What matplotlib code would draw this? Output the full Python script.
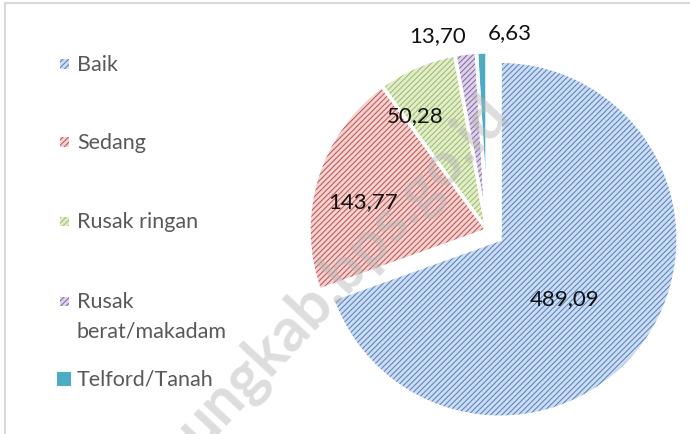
import numpy as np
import matplotlib.pyplot as plt
from matplotlib.patches import Rectangle
from matplotlib.lines import Line2D

# Data
categories = ['Baik', 'Sedang', 'Rusak ringan', 'Rusak\nberat/makadam', 'Telford/Tanah']
values = [489.09, 143.77, 50.28, 13.70, 6.63]
labels = [f'{v:.2f}'.replace('.', ',') for v in values]

# Styles
fills = ['#cddcf1', '#f2d2d1', '#e2edcf', '#ddd3e8', '#4bacc6']
hatch_colors = ['#4f7fc0', '#c0504d', '#9bbb59', '#8064a2', '#4bacc6']
hatches = ['//////', '//////', '//////', '//////', None]
explode = [0.09, 0, 0, 0, 0]
# label placement: distance from centre (radius units), angle nudge (deg)
lab_dist = [0.49, 0.715, 0.76, 1.13, 1.12]
lab_nudge = [-7, 4, 8.6, 7.2, -8.3]

plt.rcParams['font.family'] = ['Lato', 'DejaVu Sans']
plt.rcParams['hatch.linewidth'] = 0.7

W, H = 690, 435
fig = plt.figure(figsize=(W / 100, H / 100), dpi=100)

# pie axes: centre at (487, 231) px, radius 178 px
cx, cy, R = 487, 231, 178
half = 200
ax = fig.add_axes([(cx - half) / W, (H - cy - half) / H, 2 * half / W, 2 * half / H])

wedges, _ = ax.pie(values, explode=explode, startangle=90, counterclock=False,
                   radius=1, wedgeprops=dict(linewidth=0))
for w, fc, hc, h in zip(wedges, fills, hatch_colors, hatches):
    w.set_facecolor(fc)
    w.set_edgecolor(hc)
    w.set_linewidth(0)
    if h:
        w.set_hatch(h)

# white separators
ax.pie(values, explode=explode, startangle=90, counterclock=False, radius=1,
       wedgeprops=dict(fill=False, edgecolor='white', linewidth=2.5))

lim = half / R
ax.set_xlim(-lim, lim)
ax.set_ylim(-lim, lim)
ax.set_aspect('equal')
ax.axis('off')

# value labels
for w, lab, d, nud, ex in zip(wedges, labels, lab_dist, lab_nudge, explode):
    mid = np.deg2rad((w.theta1 + w.theta2) / 2)
    ang = mid + np.deg2rad(nud)
    x = ex * np.cos(mid) + d * np.cos(ang)
    y = ex * np.sin(mid) + d * np.sin(ang)
    ax.text(x, y, lab, ha='center', va='center', fontsize=16, color='#111111')

# legend (drawn manually)
leg_y = [65, 143, 222, 302, 380]
for i, (cat, y) in enumerate(zip(categories, leg_y)):
    size = 14 if hatches[i] is None else 9
    mx = 64 - size / 2
    rect = Rectangle((mx / W, (H - y - size / 2) / H), size / W, size / H,
                     transform=fig.transFigure, facecolor=fills[i],
                     edgecolor=hatch_colors[i], linewidth=0, hatch=hatches[i])
    fig.patches.append(rect)
    lines = cat.split('\n')
    for j, line in enumerate(lines):
        fig.text(77 / W, (H - y - j * 30) / H, line, ha='left', va='center',
                 fontsize=15.5, color='#595959')

# watermark
fig.text(200 / W, (H - 450) / H, 'ungkab.bps.go.id', rotation=47,
         rotation_mode='anchor', ha='left', va='baseline', fontsize=44,
         fontweight='bold', color='#b5b5b5', alpha=0.45, zorder=10)

# frame
fig.add_artist(Line2D([5 / W, 5 / W], [0, (H - 4) / H], color='#d9d9d9', linewidth=1.5))
fig.add_artist(Line2D([5 / W, 1], [(H - 4) / H, (H - 4) / H], color='#d9d9d9', linewidth=1.5))

fig.savefig('out.png', dpi=100)
